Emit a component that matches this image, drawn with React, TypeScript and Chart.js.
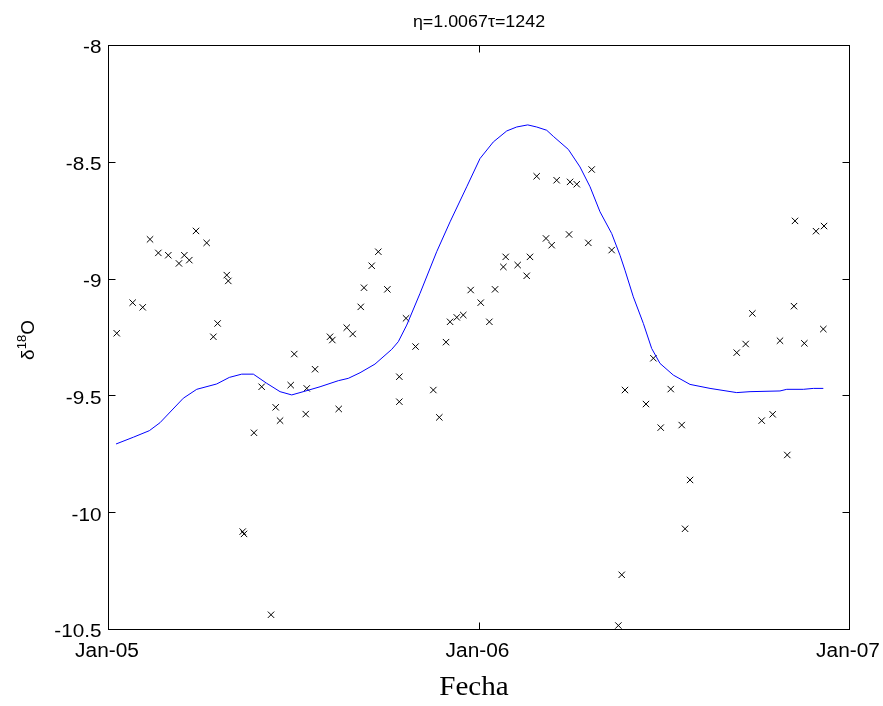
import React, { useEffect, useRef } from "react";
import { Chart, registerables } from "chart.js";

Chart.register(...registerables);

// x values are days since 1 Jan 2005
const X_TICKS = [0, 365, 730];
const X_TICK_LABELS = ["Jan-05", "Jan-06", "Jan-07"];
const Y_TICKS = [-10.5, -10, -9.5, -9, -8.5, -8];
const Y_TICK_LABELS = ["-10.5", "-10", "-9.5", "-9", "-8.5", "-8"];

const TITLE = "η=1.0067τ=1242";
const X_TITLE = "Fecha";

// Observed δ18O (markers)
const OBS_DAYS = [
  8.6, 24.3, 34.2, 41.4, 49.6, 59.4, 69.9, 75.2, 80.1, 86.7, 97.2, 103.8, 108.0,
  117.0, 118.5, 132.7, 134.0, 143.8, 151.4, 160.6, 165.2, 169.5, 180.0, 183.5,
  194.8, 195.8, 204.0, 218.7, 221.0, 227.3, 235.2, 241.1, 249.0, 252.2, 259.8,
  266.3, 275.2, 287.0, 287.0, 293.6, 303.0, 320.5, 326.4, 333.0, 337.0, 343.6,
  350.0, 357.3, 367.2, 375.7, 381.3, 389.5, 391.8, 403.6, 412.5, 415.7, 422.3,
  431.5, 437.1, 442.0, 454.2, 455.2, 461.8, 473.2, 476.5, 496.2, 502.8, 506.1,
  509.3, 530.0, 537.3, 544.5, 554.4, 565.2, 568.5, 573.4, 619.4, 628.2, 634.8,
  644.0, 654.8, 662.0, 669.2, 675.8, 676.8, 686.0, 697.5, 704.7, 705.4,
];
const OBS_VALS = [
  -9.234, -9.103, -9.123, -8.832, -8.89, -8.9, -8.935, -8.9, -8.921, -8.796, -8.847, -9.249, -9.192,
  -8.985, -9.01, -10.083, -10.093, -9.66, -9.463, -10.439, -9.551, -9.608, -9.456, -9.323,
  -9.58, -9.47, -9.388, -9.249, -9.263, -9.558, -9.21, -9.237, -9.121, -9.039, -8.945,
  -8.885, -9.046, -9.42, -9.527, -9.17, -9.291, -9.477, -9.594, -9.272, -9.185, -9.166,
  -9.156, -9.049, -9.103, -9.185, -9.046, -8.95, -8.907, -8.942, -8.988, -8.907, -8.562,
  -8.828, -8.857, -8.579, -8.811, -8.586, -8.596, -8.847, -8.533, -8.878, -10.485, -10.268,
  -9.477, -9.537, -9.341, -9.638, -9.473, -9.627, -10.071, -9.862, -9.317, -9.28, -9.149,
  -9.608, -9.581, -9.266, -9.755, -9.118, -8.753, -9.277, -8.797, -9.216, -8.775,
];

// Modelled curve (blue line)
const MODEL_DAYS = [
  7.9, 25, 40.7, 51.2, 74.2, 87.4, 107.1, 119.5, 131.7, 143.2, 156.3, 169.5, 181,
  192.4, 208.9, 226.9, 236.7, 248.3, 263, 279.5, 286, 294.3, 307.4, 323.8, 337,
  353.4, 366.5, 379.6, 392.8, 402.6, 413.5, 422.3, 432.2, 438.7, 453.5, 465, 474.9,
  484.7, 496.2, 504.4, 509.3, 517.5, 527.4, 535.6, 543.8, 556.9, 573.4, 593.1,
  619.4, 632.5, 662, 668.7, 685, 694.9, 704.7,
];
const MODEL_VALS = [
  -9.708, -9.679, -9.651, -9.617, -9.512, -9.474, -9.451, -9.423, -9.409, -9.409, -9.448, -9.484, -9.498,
  -9.484, -9.463, -9.437, -9.427, -9.403, -9.366, -9.303, -9.27, -9.199, -9.063, -8.885, -8.757,
  -8.607, -8.486, -8.415, -8.368, -8.351, -8.342, -8.351, -8.365, -8.391, -8.447, -8.522, -8.607,
  -8.714, -8.807, -8.9, -8.964, -9.078, -9.192, -9.299, -9.363, -9.413, -9.453, -9.47,
  -9.488, -9.484, -9.481, -9.474, -9.474, -9.47, -9.47,
];

const SANS = '"Liberation Sans", Arial, sans-serif';

function stretchText(ctx: CanvasRenderingContext2D, text: string, x: number, y: number, sx: number, align: CanvasTextAlign) {
  ctx.save();
  ctx.translate(x, y);
  ctx.scale(sx, 1);
  ctx.textAlign = align;
  ctx.fillText(text, 0, 0);
  ctx.restore();
}

const overlay = {
  id: "overlay",
  afterDraw(chart: any) {
    const { ctx, chartArea: a, scales } = chart;
    const xs = scales.x;
    const ys = scales.y;
    ctx.save();
    ctx.strokeStyle = "#000";
    ctx.lineWidth = 1;
    const L = Math.round(a.left) + 0.5;
    const R = Math.round(a.right) + 0.5;
    const T = Math.round(a.top) + 0.5;
    const B = Math.round(a.bottom) + 0.5;
    ctx.strokeRect(L, T, R - L, B - T);
    const tl = 7;
    ctx.beginPath();
    X_TICKS.forEach((v) => {
      const px = Math.round(xs.getPixelForValue(v)) + 0.5;
      ctx.moveTo(px, B);
      ctx.lineTo(px, B - tl);
      ctx.moveTo(px, T);
      ctx.lineTo(px, T + tl);
    });
    Y_TICKS.forEach((v) => {
      const py = Math.round(ys.getPixelForValue(v)) + 0.5;
      ctx.moveTo(L, py);
      ctx.lineTo(L + tl, py);
      ctx.moveTo(R, py);
      ctx.lineTo(R - tl, py);
    });
    ctx.stroke();

    ctx.fillStyle = "#000";
    ctx.textBaseline = "alphabetic";

    // tick labels
    ctx.font = "18px " + SANS;
    Y_TICKS.forEach((v, i) => {
      const py = ys.getPixelForValue(v);
      stretchText(ctx, Y_TICK_LABELS[i], 101.5, py + 8.3, 1.15, "right");
    });
    ctx.font = "19.5px " + SANS;
    X_TICKS.forEach((v, i) => {
      const px = xs.getPixelForValue(v);
      stretchText(ctx, X_TICK_LABELS[i], px - 1, 656.5, 1.07, "center");
    });

    // title
    ctx.font = "17px " + SANS;
    stretchText(ctx, TITLE, 479, 27, 1.05, "center");

    // x title
    ctx.font = '28px "Liberation Serif", "Times New Roman", serif';
    stretchText(ctx, X_TITLE, 474, 695, 1.04, "center");

    // y title: δ^18 O rotated
    ctx.translate(34, 340);
    ctx.rotate(-Math.PI / 2);
    const big = "19px " + SANS;
    const small = "13px " + SANS;
    ctx.font = big;
    const w1 = ctx.measureText("δ").width;
    const w3 = ctx.measureText("O").width;
    ctx.font = small;
    const w2 = ctx.measureText("18").width;
    const total = w1 + w2 + w3;
    let x = -total / 2;
    ctx.textAlign = "left";
    ctx.font = big;
    ctx.fillText("δ", x, 0);
    x += w1;
    ctx.font = small;
    ctx.fillText("18", x, -8);
    x += w2;
    ctx.font = big;
    ctx.fillText("O", x, 0);
    ctx.restore();
  },
};

export default function App() {
  const ref = useRef<HTMLCanvasElement | null>(null);
  useEffect(() => {
    document.body.style.margin = "0";
    const canvas = ref.current;
    if (!canvas) return;
    const chart = new Chart(canvas, {
      type: "scatter",
      data: {
        datasets: [
          {
            label: "model",
            data: MODEL_DAYS.map((d, i) => ({ x: d, y: MODEL_VALS[i] })),
            showLine: true,
            borderColor: "#0000ff",
            backgroundColor: "#0000ff",
            borderWidth: 1,
            pointRadius: 0,
            tension: 0,
          },
          {
            label: "obs",
            data: OBS_DAYS.map((d, i) => ({ x: d, y: OBS_VALS[i] })),
            showLine: false,
            pointStyle: "crossRot",
            pointRadius: 4.5,
            borderColor: "#000",
            backgroundColor: "#000",
            borderWidth: 1,
          },
        ],
      },
      options: {
        animation: false,
        responsive: false,
        maintainAspectRatio: false,
        layout: { padding: { top: 45, right: 34, left: 0, bottom: 0 } },
        plugins: { legend: { display: false }, tooltip: { enabled: false }, title: { display: false } },
        scales: {
          x: {
            type: "linear",
            min: 0,
            max: 730,
            afterBuildTicks: (s: any) => {
              s.ticks = X_TICKS.map((v) => ({ value: v }));
            },
            afterFit: (s: any) => {
              s.height = 77;
              s.paddingLeft = 0;
              s.paddingRight = 0;
            },
            grid: { display: false },
            border: { display: false },
            ticks: { display: false },
          },
          y: {
            type: "linear",
            min: -10.5,
            max: -8,
            afterBuildTicks: (s: any) => {
              s.ticks = Y_TICKS.map((v) => ({ value: v }));
            },
            afterFit: (s: any) => {
              s.width = 108;
              s.paddingTop = 0;
              s.paddingBottom = 0;
            },
            grid: { display: false },
            border: { display: false },
            ticks: { display: false },
          },
        },
      },
      plugins: [overlay],
    });
    return () => chart.destroy();
  }, []);
  return (
    <div style={{ width: 883, height: 706, position: "relative", background: "#fff" }}>
      <canvas ref={ref} width={883} height={706} style={{ width: 883, height: 706, display: "block" }} />
    </div>
  );
}
